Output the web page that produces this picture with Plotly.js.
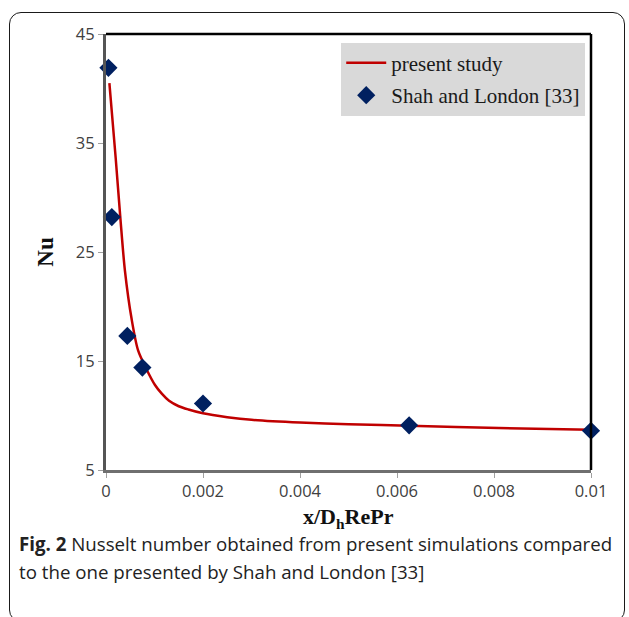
<!DOCTYPE html>
<html>
<head>
<meta charset="utf-8">
<script src="https://cdn.plot.ly/plotly-3.0.1.min.js"></script>
<style>
  html, body { margin: 0; padding: 0; background: #fff; }
  #frame { position: absolute; left: 9px; top: 12px; width: 616px; height: 610px;
           border: 1.5px solid #1a1a1a; border-radius: 12px; box-sizing: border-box; }
  #chart { position: absolute; left: 0; top: 0; width: 629px; height: 617px; }
</style>
</head>
<body>
<div id="frame"></div>
<div id="chart"></div>
<script>
// Present study (simulation curve)
const studyX  = [0.00007, 0.0002, 0.0003, 0.00039, 0.00053, 0.00066, 0.00084, 0.00101, 0.00115, 0.0013, 0.0015, 0.0017, 0.002, 0.0025, 0.003, 0.004, 0.005, 0.00625, 0.0081, 0.01];
const studyNu = [40.5,    33.6,   27.9,   23.3,    18.8,    16.0,    14.2,    12.8,    12.0,    11.35,  10.85,  10.55,  10.2,  9.85,   9.6,   9.35,  9.2,   9.06,    8.85,   8.7];
// Shah and London [33]
const shahX  = [0.00005, 0.00012, 0.00044, 0.00075, 0.002, 0.00625, 0.01];
const shahNu = [41.9,    28.2,    17.3,    14.4,    11.1,  9.1,     8.6];
// Axis ticks
const yTicks = [5, 15, 25, 35, 45];
const xTicks = [0, 0.002, 0.004, 0.006, 0.008, 0.01];
const xTickText = ['0', '0.002', '0.004', '0.006', '0.008', '0.01'];

const traces = [
  { x: studyX, y: studyNu, type: 'scatter', mode: 'lines', name: 'present study',
    line: { color: '#c00000', width: 2.5, shape: 'spline', smoothing: 0.8 }, legendgroup: 'a' },
  { x: shahX, y: shahNu, type: 'scatter', mode: 'markers', name: 'Shah and London [33]',
    marker: { symbol: 'diamond', color: '#002060', size: 14 }, cliponaxis: false, legendgroup: 'b' }
];

const tickFont = { family: 'Open Sans, sans-serif', size: 16.5, color: '#404040' };
const layout = {
  width: 629, height: 617,
  margin: { l: 106, r: 38, t: 34, b: 147 },
  paper_bgcolor: 'rgba(0,0,0,0)', plot_bgcolor: '#fff',
  showlegend: true,
  legend: { x: 0.485, y: 0.98, xanchor: 'left', yanchor: 'top', bgcolor: '#d9d9d9',
            font: { family: 'Liberation Serif, serif', size: 21, color: '#1a1a1a' },
            tracegroupgap: 2, itemwidth: 40 },
  xaxis: { range: [0, 0.01], tickvals: xTicks, ticktext: xTickText, showgrid: false, zeroline: false,
           showline: true, linecolor: '#6f6f6f', linewidth: 2.5, ticks: 'outside', ticklen: 5,
           tickcolor: '#a0a0a0', tickfont: tickFont },
  yaxis: { range: [5, 45], tickvals: yTicks, showgrid: false, zeroline: false,
           showline: true, linecolor: '#555', linewidth: 3, ticks: 'outside', ticklen: 5,
           tickcolor: '#a0a0a0', tickfont: tickFont,
           title: { text: '<b>Nu</b>', font: { family: 'Liberation Serif, serif', size: 23, color: '#111' }, standoff: 16 } },
  shapes: [
    { type: 'line', xref: 'paper', yref: 'paper', x0: 0, x1: 1, y0: 1, y1: 1, line: { color: '#000', width: 2.5 } },
    { type: 'line', xref: 'paper', yref: 'paper', x0: 1, x1: 1, y0: 0, y1: 1, line: { color: '#000', width: 2.5 } }
  ],
  annotations: [
    { xref: 'paper', yref: 'paper', x: 0.5, y: -0.110, xanchor: 'center', yanchor: 'middle', showarrow: false,
      text: '<b>x/D<sub>h</sub>RePr</b>', font: { family: 'Liberation Serif, serif', size: 22, color: '#111' } },
    { xref: 'paper', yref: 'paper', x: -0.183, y: -0.135, xanchor: 'left', yanchor: 'top', showarrow: false, align: 'left',
      text: '<b>Fig. 2</b> Nusselt number obtained from present simulations compared',
      font: { family: 'Open Sans, sans-serif', size: 18.7, color: '#222' } },
    { xref: 'paper', yref: 'paper', x: -0.183, y: -0.199, xanchor: 'left', yanchor: 'top', showarrow: false, align: 'left',
      text: 'to the one presented by Shah and London [33]',
      font: { family: 'Open Sans, sans-serif', size: 18.7, color: '#222' } }
  ]
};

Plotly.newPlot('chart', traces, layout, { displayModeBar: false, staticPlot: true });
</script>
</body>
</html>
